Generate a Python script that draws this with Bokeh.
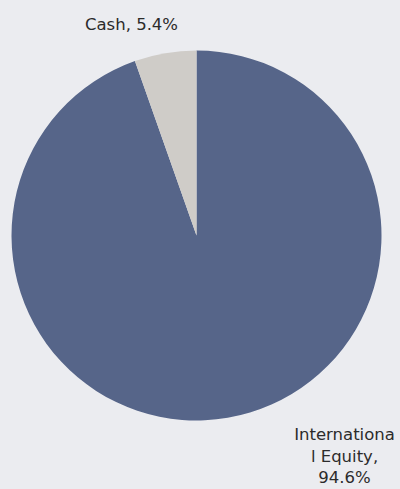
from math import pi
from bokeh.plotting import figure
from bokeh.models import Range1d, ColumnDataSource
from bokeh.core.properties import value
from bokeh.embed import file_html
from bokeh.resources import INLINE

categories = ["International Equity", "Cash"]
shares = [94.6, 5.4]
colors = ["#566589", "#CFCCC8"]
label_lines = [["Internationa", "l Equity,", "94.6%"], ["Cash, 5.4%"]]

W, H = 400, 489
cx, cy, R = 196, 235, 185  # pixel layout of the pie

total = sum(shares)
cash_frac = shares[1] / total
start = [pi / 2 + 2 * pi * cash_frac, pi / 2]
end = [pi / 2 + 2 * pi, pi / 2 + 2 * pi * cash_frac]

src = ColumnDataSource(dict(cat=categories, start=start, end=end, color=colors))

p = figure(width=W, height=H, output_backend="svg", toolbar_location=None,
           x_range=Range1d(-cx / R, (W - cx) / R),
           y_range=Range1d(-(H - cy) / R, cy / R),
           min_border=0)
p.axis.visible = False
p.grid.visible = False
p.outline_line_color = None
p.background_fill_color = "#EBECF0"
p.border_fill_color = "#EBECF0"

p.wedge(x=0, y=0, radius=1, start_angle="start", end_angle="end",
        fill_color="color", line_color=None, source=src)

FONT = value("DejaVu Sans")
cash_x, cash_y = (131 - cx) / R, (cy - 24) / R
p.text(x=[cash_x], y=[cash_y], text=label_lines[1], text_align="center",
       text_baseline="middle", text_font=FONT, text_font_size="16.5px",
       text_color="#2b2b2b")
eq_x = (344 - cx) / R
eq_ys = [(cy - yy) / R for yy in (434, 456, 477)]
p.text(x=[eq_x] * 3, y=eq_ys, text=label_lines[0], text_align="center",
       text_baseline="middle", text_font=FONT, text_font_size="16.5px",
       text_color="#2b2b2b")

html = file_html(p, INLINE)
html = html.replace("<head>", "<head><style>html,body{margin:0;padding:0;background:#EBECF0;overflow:hidden}</style>", 1)
open("out.html", "w").write(html)
